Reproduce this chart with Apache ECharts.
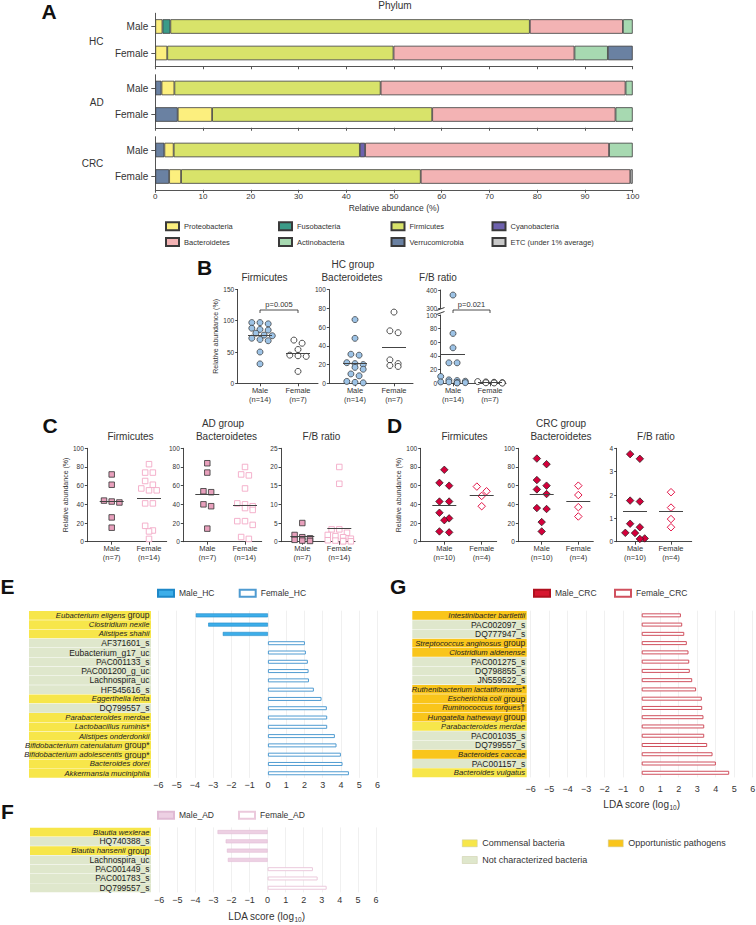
<!DOCTYPE html>
<html><head><meta charset="utf-8">
<script src="https://cdn.jsdelivr.net/npm/echarts@6/dist/echarts.min.js"></script>
<style>html,body{margin:0;padding:0;background:#fff}#c{width:756px;height:925px}</style>
</head><body><div id="c"></div>
<script>
// ================= DATA =================
// Panel A – phylum relative abundance (%), bars: [HC-M, HC-F, AD-M, AD-F, CRC-M, CRC-F]
const groupsA = ['HC', 'AD', 'CRC'];
const sexes = ['Male', 'Female'];
const verrucoStart   = [0, 0, 1.3, 4.7, 1.9, 2.9];
const proteobacteria = [1.5, 2.5, 2.7, 7.2, 1.95, 2.5];
const fusobacteria   = [1.65, 0, 0, 0, 0, 0];
const firmicutes     = [75.3, 47.4, 43.2, 46.1, 39.0, 50.2];
const cyanobacteria  = [0, 0, 0, 0, 1.1, 0];
const bacteroidetes  = [19.5, 37.9, 51.3, 38.4, 51.1, 43.9];
const actinobacteria = [2.05, 7.0, 1.5, 3.6, 4.95, 0];
const verrucoEnd     = [0, 5.2, 0, 0, 0, 0];
const etcPhyla       = [0, 0, 0, 0, 0, 0.5];

// Panel B – HC group
const bFirmMale   = [97, 97, 95, 88, 86, 85, 80, 77, 76, 72, 70, 68, 50, 31];
const bFirmFemale = [69, 64, 54, 45, 44, 43, 19];
const bBactMale   = [68, 48, 31, 30, 22, 21, 20, 17, 15, 10, 8, 2, 1, 0.5];
const bBactFemale = [76, 56, 54, 25, 21, 19, 18];
const bRatioMale  = [372, 73, 52, 30, 30, 10, 5, 4, 3, 2, 2, 1, 1, 0.5];
const bRatioFemale= [2.5, 2, 1.5, 1, 0.8, 0.5, 0.3];
// Panel C – AD group
const cFirmMale   = [72, 61, 44, 43, 42, 26, 15];
const cFirmFemale = [83, 74, 74, 65, 61, 57, 55, 55, 41, 41, 17, 12, 11, 3];
const cBactMale   = [84, 74, 54, 53, 40, 38, 14];
const cBactFemale = [80, 72, 71, 57, 41, 40, 38, 36, 34, 22, 22, 18, 5, 3];
const cRatioMale  = [5.0, 1.8, 1.2, 0.9, 0.5, 0.3, 0.2];
const cRatioFemale= [20, 15.5, 3.3, 3.3, 2.4, 1.8, 1.5, 1.2, 0.8, 0.4, 0.3, 0.2, 0.1, 0.1];
// Panel D – CRC group
const dFirmMale   = [77, 63, 60, 43, 43, 31, 25, 23, 11, 10];
const dFirmFemale = [59, 54, 49, 38];
const dBactMale   = [89, 83, 66, 60, 56, 51, 36, 35, 21, 11];
const dBactFemale = [60, 50, 37, 27];
const dRatioMale  = [3.75, 3.55, 1.76, 1.72, 0.77, 0.62, 0.38, 0.37, 0.14, 0.12];
const dRatioFemale= [2.12, 1.46, 0.97, 0.62];

// Panels E/F/G – LEfSe LDA scores (negative = male, positive = female); type: C commensal, O opportunistic, N not characterized
const eTaxa = ['Eubacterium eligens group','Clostridium nexile','Alistipes shahii','AF371601_s','Eubacterium_g17_uc','PAC001133_s','PAC001200_g_uc','Lachnospira_uc','HF545616_s','Eggerthella lenta','DQ799557_s','Parabacteroides merdae','Lactobacillus ruminis*','Alistipes onderdonkii','Bifidobacterium catenulatum group*','Bifidobacterium adolescentis group*','Bacteroides dorei','Akkermansia muciniphila'];
const eLDA  = [-3.95, -3.27, -2.47, 2.03, 2.08, 2.19, 2.23, 2.25, 2.52, 2.94, 3.23, 3.25, 3.25, 3.67, 3.76, 4.0, 4.09, 4.44];
const eType = ['C','C','C','N','N','N','N','N','N','C','N','C','C','C','C','C','C','C'];
const fTaxa = ['Blautia wexlerae','HQ740388_s','Blautia hansenii group','Lachnospira_uc','PAC001449_s','PAC001783_s','DQ799557_s'];
const fLDA  = [-2.77, -2.32, -2.25, -2.2, 2.51, 2.77, 3.27];
const fType = ['C','N','C','N','N','N','N'];
const gTaxa = ['Intestinibacter bartlettii','PAC002097_s','DQ777947_s','Streptococcus anginosus group','Clostridium aldenense','PAC001275_s','DQ798855_s','JN559522_s','Ruthenibacterium lactatiformans*','Escherichia coli group','Ruminococcus torques\u2020','Hungatella hathewayi group','Parabacteroides merdae','PAC001035_s','DQ799557_s','Bacteroides caccae','PAC001157_s','Bacteroides vulgatus'];
const gLDA  = [2.12, 2.19, 2.3, 2.44, 2.53, 2.57, 2.6, 2.73, 2.94, 3.25, 3.27, 3.34, 3.38, 3.38, 3.54, 3.83, 4.01, 4.73];
const gType = ['O','N','N','O','O','N','N','N','O','O','O','O','C','N','N','O','N','C'];

// ================= HELPERS =================
const FONT = "'Liberation Sans', Arial, Helvetica, sans-serif";
const mctx = document.createElement('canvas').getContext('2d');
function tw(s, size, fam) { mctx.font = size + 'px ' + (fam || FONT); return mctx.measureText(s).width; }
mctx.font = "20px 'Liberation Sans Narrow', monospace"; const wa = mctx.measureText('abcdefghijklmnop').width;
mctx.font = "20px monospace"; const wb = mctx.measureText('abcdefghijklmnop').width;
const NARROW = Math.abs(wa - wb) > 0.5;
const NFONT = NARROW ? "'Liberation Sans Narrow', " + FONT : FONT;

const grids = [], xAxes = [], yAxes = [], series = [], legends = [], graphics = [];
function addGrid(g, x, y) {
  grids.push(Object.assign({ containLabel: false, outerBoundsMode: 'none' }, g));
  const gi = grids.length - 1; x.gridIndex = gi; y.gridIndex = gi;
  xAxes.push(x); yAxes.push(y); return gi;
}
function txt(s, x, y, size, o) {
  graphics.push({ type: 'text', x: x, y: y, silent: true, z: 100,
    style: Object.assign({ text: s, fontSize: size, fontFamily: FONT, fill: '#222', align: 'center', verticalAlign: 'middle' }, o || {}) });
}
function poly(pts, w) { graphics.push({ type: 'polyline', silent: true, z: 100, shape: { points: pts }, style: { stroke: '#222', lineWidth: w || 0.8, fill: null } }); }
function letter(s, x, y) { txt(s, x, y, 21, { fontWeight: 'bold', fontFamily: NFONT, align: 'left', fill: '#111' }); }

// ================= PANEL A =================
const phyla = [
  { name: 'Verrucomicrobia', data: verrucoStart, color: '#6A81A2' },
  { name: 'Proteobacteria', data: proteobacteria, color: '#FCEF7E' },
  { name: 'Fusobacteria', data: fusobacteria, color: '#3B9B88' },
  { name: 'Firmicutes', data: firmicutes, color: '#D8E36A' },
  { name: 'Cyanobacteria', data: cyanobacteria, color: '#6E62AE' },
  { name: 'Bacteroidetes', data: bacteroidetes, color: '#F3B3B4' },
  { name: 'Actinobacteria', data: actinobacteria, color: '#A7D9B1' },
  { name: 'Verrucomicrobia', data: verrucoEnd, color: '#6A81A2' },
  { name: 'ETC (under 1% average)', data: etcPhyla, color: '#C8C8C8' }
];
const aTops = [13.25, 74.75, 136.75];
const aLabelPos = [[96.3, 41], [96.7, 102.3], [92.5, 163.3]];
groupsA.forEach((grp, g) => {
  const gi = addGrid({ left: 155.3, top: aTops[g], width: 477.4, height: 53 },
    { type: 'value', min: 0, max: 100, interval: 10,
      axisLine: { show: true, onZero: false, lineStyle: { color: '#555', width: 1 } },
      axisTick: { show: true, length: 3, lineStyle: { color: '#555' } },
      axisLabel: { show: g === 2, fontSize: 8, color: '#333', margin: 2.5, fontFamily: FONT },
      splitLine: { show: false },
      name: g === 2 ? 'Relative abundance (%)' : '', nameLocation: 'middle', nameGap: 14,
      nameTextStyle: { fontSize: 8.5, color: '#333', fontFamily: FONT } },
    { type: 'category', data: sexes, inverse: true,
      axisLine: { show: true, lineStyle: { color: '#555' } },
      axisTick: { show: true, length: 4, alignWithLabel: true, lineStyle: { color: '#555' } },
      axisLabel: { fontSize: 10, color: '#333', margin: 7, fontFamily: FONT } });
  phyla.forEach(p => {
    series.push({ type: 'bar', name: p.name, xAxisIndex: gi, yAxisIndex: gi, stack: 'A' + g, barWidth: 14.5, silent: true,
      data: [p.data[2 * g] || null, p.data[2 * g + 1] || null],
      itemStyle: { color: p.color, borderColor: '#3a3a3a', borderWidth: 0.8 } });
  });
  txt(grp, aLabelPos[g][0], aLabelPos[g][1], 10, { fill: '#333' });
});
txt('Phylum', 395, 5.5, 10, { fill: '#333' });
letter('A', 41.5, 11);
const aLegCols = [[165, ['Proteobacteria', 'Bacteroidetes']], [278, ['Fusobacteria', 'Actinobacteria']],
                  [390.5, ['Firmicutes', 'Verrucomicrobia']], [491.5, ['Cyanobacteria', 'ETC (under 1% average)']]];
aLegCols.forEach(c => legends.push({ data: c[1], left: c[0], top: 221.3, orient: 'vertical', padding: 0, itemGap: 5.7,
  itemWidth: 13, itemHeight: 8, icon: 'rect', selectedMode: false,
  textStyle: { fontSize: 7.5, color: '#333', fontFamily: FONT, padding: [0, 0, 0, 0] } }));

// ================= SCATTER PANELS (B, C, D) =================
function swarm(vals, pxu, yMin, size, spacing, maxPerRow) {
  const order = vals.map((v, i) => i).sort((a, b) => vals[b] - vals[a]);
  const off = new Array(vals.length).fill(0);
  const rows = []; let cur = null;
  order.forEach(i => {
    const y = (vals[i] - yMin) * pxu;
    if (cur && cur.y0 - y < size * 0.85 && cur.items.length < maxPerRow) cur.items.push(i);
    else { cur = { y0: y, items: [i] }; rows.push(cur); }
  });
  rows.forEach((r, ri) => {
    let shift = 0;
    if (ri > 0 && rows[ri - 1].y0 - r.y0 < size * 0.85) shift = rows[ri - 1].shift ? 0 : spacing / 2;
    r.shift = shift;
    const k = r.items.length;
    r.items.forEach((i, j) => { off[i] = (j - (k - 1) / 2) * spacing + shift; });
  });
  return off;
}
const scatterStyles = {
  B: { male: { symbol: 'circle', size: 6, color: '#9DC3E6', border: '#2b2b2b', bw: 0.7 },
       female: { symbol: 'circle', size: 6, color: '#ffffff', border: '#222222', bw: 0.8 } },
  C: { male: { symbol: 'rect', size: 5.5, color: '#E8A0BC', border: '#333333', bw: 0.8 },
       female: { symbol: 'rect', size: 5.5, color: '#ffffff', border: '#F3A9C6', bw: 0.9 } },
  D: { male: { symbol: 'diamond', size: 7.5, color: '#D4003B', border: '#1a1a1a', bw: 0.7 },
       female: { symbol: 'diamond', size: 7.5, color: '#ffffff', border: '#E3174A', bw: 1 } }
};
function yAxisCfg(min, max, int, name) {
  return { type: 'value', min: min, max: max, interval: int,
    axisLine: { show: true, onZero: false, lineStyle: { color: '#333', width: 0.9 } },
    axisTick: { show: true, length: 2.5, lineStyle: { color: '#333', width: 0.9 } },
    axisLabel: { fontSize: 6.5, color: '#333', margin: 3.5, fontFamily: FONT },
    splitLine: { show: false },
    name: name || '', nameLocation: 'middle', nameGap: 18,
    nameTextStyle: { fontSize: 7, color: '#333', fontFamily: FONT } };
}
function scatterPanel(p) {
  const u = p.female - p.male;
  const xMin = -(p.male - p.left) / u, xMax = 1 + (p.right - p.female) / u;
  const h = p.bottom - p.top;
  const pxu = h / (p.yMax - 0);
  const gi = addGrid({ left: p.left, top: p.top, width: p.right - p.left, height: h },
    { type: 'value', min: xMin, max: xMax,
      axisLine: { show: true, onZero: false, lineStyle: { color: '#333', width: 0.9 } },
      axisTick: { show: true, customValues: [0, 1], length: 3, lineStyle: { color: '#333', width: 0.9 } },
      axisLabel: { customValues: [0, 1], formatter: v => (Math.round(v) === 0 ? p.labels[0] : p.labels[1]),
        fontSize: 7.5, lineHeight: 8.5, color: '#333', margin: 3, fontFamily: FONT },
      splitLine: { show: false } },
    yAxisCfg(0, p.yMax, p.yInt, p.yName));
  let ug = -1;
  if (p.split) {
    ug = addGrid({ left: p.left, top: p.split.top, width: p.right - p.left, height: p.split.bottom - p.split.top },
      { type: 'value', min: xMin, max: xMax, show: false },
      yAxisCfg(p.split.min, p.split.max, p.split.int));
  }
  const st = scatterStyles[p.style];
  [[p.maleVals, st.male, 0], [p.femaleVals, st.female, 1]].forEach(([vals, s, g]) => {
    const off = swarm(vals, pxu, 0, s.size, s.size + 2.2, p.maxPerRow || 3);
    const lower = [], upper = [];
    vals.forEach((v, i) => { const pt = [g + off[i] / u, v]; (p.split && v > p.yMax ? upper : lower).push(pt); });
    const mean = vals.reduce((a, b) => a + b, 0) / vals.length;
    const common = { type: 'scatter', symbol: s.symbol, symbolSize: s.size, silent: true, z: 3,
      itemStyle: { color: s.color, borderColor: s.border, borderWidth: s.bw, opacity: 1 } };
    series.push(Object.assign({}, common, { xAxisIndex: gi, yAxisIndex: gi, data: lower,
      markLine: { silent: true, symbol: ['none', 'none'], label: { show: false }, animation: false,
        lineStyle: { color: '#444', width: 1, type: 'solid' },
        data: [[{ coord: [g - 12 / u, mean] }, { coord: [g + 12 / u, mean] }]] } }));
    if (upper.length) series.push(Object.assign({}, common, { xAxisIndex: ug, yAxisIndex: ug, data: upper }));
  });
}
const YN = 'Relative abundance (%)';
// B
scatterPanel({ left: 237.7, right: 318, top: 289.4, bottom: 383.3, male: 260, female: 298, yMax: 150, yInt: 50,
  maleVals: bFirmMale, femaleVals: bFirmFemale, labels: ['Male\n(n=14)', 'Female\n(n=7)'], style: 'B', yName: YN });
scatterPanel({ left: 329.3, right: 413, top: 289.6, bottom: 383.3, male: 355, female: 394, yMax: 100, yInt: 20,
  maleVals: bBactMale, femaleVals: bBactFemale, labels: ['Male\n(n=14)', 'Female\n(n=7)'], style: 'B' });
scatterPanel({ left: 440.7, right: 506, top: 315, bottom: 383.3, male: 453, female: 490, yMax: 100, yInt: 20,
  maleVals: bRatioMale, femaleVals: bRatioFemale, labels: ['Male\n(n=14)', 'Female\n(n=7)'], style: 'B', maxPerRow: 4,
  split: { top: 290, bottom: 308, min: 300, max: 400, int: 100 } });
// C
scatterPanel({ left: 87.3, right: 166.7, top: 448.3, bottom: 541.7, male: 111.7, female: 149, yMax: 100, yInt: 20,
  maleVals: cFirmMale, femaleVals: cFirmFemale, labels: ['Male\n(n=7)', 'Female\n(n=14)'], style: 'C', yName: YN });
scatterPanel({ left: 183.3, right: 261.7, top: 448.3, bottom: 541.7, male: 207.3, female: 245, yMax: 100, yInt: 20,
  maleVals: cBactMale, femaleVals: cBactFemale, labels: ['Male\n(n=7)', 'Female\n(n=14)'], style: 'C' });
scatterPanel({ left: 281, right: 355, top: 448.3, bottom: 541.7, male: 302.3, female: 339.3, yMax: 25, yInt: 5,
  maleVals: cRatioMale, femaleVals: cRatioFemale, labels: ['Male\n(n=7)', 'Female\n(n=14)'], style: 'C', maxPerRow: 4 });
// D
scatterPanel({ left: 420.7, right: 496.7, top: 448.3, bottom: 541.7, male: 444.3, female: 481.7, yMax: 100, yInt: 20,
  maleVals: dFirmMale, femaleVals: dFirmFemale, labels: ['Male\n(n=10)', 'Female\n(n=4)'], style: 'D', yName: YN });
scatterPanel({ left: 518.3, right: 593.3, top: 448.3, bottom: 541.7, male: 541.7, female: 578.3, yMax: 100, yInt: 20,
  maleVals: dBactMale, femaleVals: dBactFemale, labels: ['Male\n(n=10)', 'Female\n(n=4)'], style: 'D' });
scatterPanel({ left: 616.7, right: 691.7, top: 448.3, bottom: 541.7, male: 635, female: 671, yMax: 4, yInt: 1,
  maleVals: dRatioMale, femaleVals: dRatioFemale, labels: ['Male\n(n=10)', 'Female\n(n=4)'], style: 'D' });

letter('B', 197, 267);
txt('HC group', 353, 264, 10, { fill: '#333' });
txt('Firmicutes', 264.5, 277.7, 10, { fill: '#333' });
txt('Bacteroidetes', 352, 277.7, 10, { fill: '#333' });
txt('F/B ratio', 438, 277.7, 10, { fill: '#333' });
poly([[260, 313], [260, 310], [298, 310], [298, 313]]);
txt('p=0.005', 279, 304.5, 7.5, { fill: '#333' });
poly([[453, 313], [453, 310], [490, 310], [490, 313]]);
txt('p=0.021', 471.5, 304.5, 7.5, { fill: '#333' });
poly([[436.5, 310.5], [444.5, 307.5]], 0.9);
poly([[436.5, 314.5], [444.5, 311.5]], 0.9);

letter('C', 42.5, 425.5);
txt('AD group', 223, 423, 10, { fill: '#333' });
txt('Firmicutes', 130.5, 436, 10, { fill: '#333' });
txt('Bacteroidetes', 226.5, 436, 10, { fill: '#333' });
txt('F/B ratio', 321.5, 436, 10, { fill: '#333' });
letter('D', 387, 425);
txt('CRC group', 561, 423, 10, { fill: '#333' });
txt('Firmicutes', 464.5, 436, 10, { fill: '#333' });
txt('Bacteroidetes', 561, 436, 10, { fill: '#333' });
txt('F/B ratio', 656, 436, 10, { fill: '#333' });

// ================= LDA PANELS (E, F, G) =================
const typeDefs = [{ key: 'C', name: 'Commensal bacteria', color: '#F7E64A' },
                  { key: 'O', name: 'Opportunistic pathogens', color: '#F9C51B' },
                  { key: 'N', name: 'Not characterized bacteria', color: '#DFE7CC' }];
const richStyles = {
  i: { fontStyle: 'italic', fontFamily: NFONT, fontSize: NARROW ? 9.2 : 7.7, color: '#222' },
  r: { fontFamily: FONT, fontSize: 8.5, color: '#222' }
};
function taxonRich(name) {
  if (name.indexOf('_') >= 0) return '{r|' + name + '}';
  const m = name.match(/^(.*?)( group)?([*\u2020])?$/);
  let s = '{i|' + m[1] + '}';
  if (m[2]) s += '{r| group}';
  if (m[3]) s += '{r|' + m[3] + '}';
  return s;
}
function ldaPanel(o) {
  const bi = addGrid({ left: o.bandLeft, top: o.top, width: o.bandWidth, height: o.height },
    { type: 'value', min: 0, max: 1, show: false },
    { type: 'category', data: o.taxa, inverse: true, show: false });
  typeDefs.forEach(td => {
    series.push({ type: 'bar', name: td.name, xAxisIndex: bi, yAxisIndex: bi, barWidth: '95%', barGap: '-100%', silent: true,
      data: o.taxa.map((t, i) => (o.type[i] === td.key ? 1 : null)),
      itemStyle: { color: td.color },
      label: { show: true, position: 'insideRight', distance: 1.5, formatter: p => taxonRich(p.name), rich: richStyles } });
  });
  const pi = addGrid({ left: o.plotLeft, top: o.top, width: o.plotWidth, height: o.height },
    { type: 'value', min: -6, max: 6, interval: 1,
      axisLine: { show: false }, axisTick: { show: false },
      splitLine: { show: true, lineStyle: { color: '#ececec', width: 0.8 } },
      axisLabel: { fontSize: 9, color: '#333', margin: o.labelMargin, fontFamily: FONT,
        formatter: v => String(v).replace('-', '\u2212') } },
    { type: 'category', data: o.taxa, inverse: true, show: false });
  series.push({ type: 'bar', name: o.male.name, xAxisIndex: pi, yAxisIndex: pi, barWidth: 4, barGap: '-100%', silent: true,
    data: o.lda.map(v => (v < 0 ? v : null)), itemStyle: o.male.style });
  series.push({ type: 'bar', name: o.female.name, xAxisIndex: pi, yAxisIndex: pi, barWidth: 4, barGap: '-100%', silent: true,
    data: o.lda.map(v => (v > 0 ? v : null)), itemStyle: o.female.style });
  [[o.male.name, o.male.legendLeft], [o.female.name, o.female.legendLeft]].forEach(([n, l]) =>
    legends.push({ data: [n], left: l, top: o.legendY - 4.25, padding: 0, itemWidth: 16, itemHeight: 7, icon: 'rect',
      selectedMode: false, textStyle: { fontSize: 8.5, color: '#333', fontFamily: FONT } }));
}
ldaPanel({ taxa: eTaxa, lda: eLDA, type: eType, top: 610.7, height: 167.2, bandLeft: 29, bandWidth: 122,
  plotLeft: 158.4, plotWidth: 219, labelMargin: 3, legendY: 593,
  male: { name: 'Male_HC', legendLeft: 157, style: { color: '#3DAEE9', borderColor: '#1E88C8', borderWidth: 0.6 } },
  female: { name: 'Female_HC', legendLeft: 238.7, style: { color: '#ffffff', borderColor: '#4F9BD1', borderWidth: 1 } } });
ldaPanel({ taxa: fTaxa, lda: fLDA, type: fType, top: 827.4, height: 65, bandLeft: 30, bandWidth: 121,
  plotLeft: 159.2, plotWidth: 216.8, labelMargin: 3, legendY: 815,
  male: { name: 'Male_AD', legendLeft: 157, style: { color: '#EDD0E3', borderColor: '#E0BAD4', borderWidth: 0.6 } },
  female: { name: 'Female_AD', legendLeft: 238, style: { color: '#ffffff', borderColor: '#EBC9DC', borderWidth: 1 } } });
ldaPanel({ taxa: gTaxa, lda: gLDA, type: gType, top: 610.7, height: 166.7, bandLeft: 412.3, bandWidth: 114.4,
  plotLeft: 530.7, plotWidth: 222, labelMargin: 7, legendY: 593,
  male: { name: 'Male_CRC', legendLeft: 533, style: { color: '#D6172F', borderColor: '#B0101F', borderWidth: 0.6 } },
  female: { name: 'Female_CRC', legendLeft: 614, style: { color: '#ffffff', borderColor: '#D0505E', borderWidth: 1 } } });

letter('E', 0.5, 586);
letter('F', 1, 811);
letter('G', 390, 586);
// category legend
[['Commensal bacteria', 462, 843.3], ['Opportunistic pathogens', 608, 843.3], ['Not characterized bacteria', 462, 860]].forEach(([n, l, y]) =>
  legends.push({ data: [n], left: l, top: y - 4.5, padding: 0, itemWidth: 15, itemHeight: 7, icon: 'rect', selectedMode: false,
    itemStyle: { borderColor: '#c9c9a0', borderWidth: 0.5 },
    textStyle: { fontSize: 9, color: '#333', fontFamily: FONT } }));
// LDA score (log10) axis titles
function ldaTitle(cx, cy) {
  const a = 'LDA score (log', b = '10', c = ')';
  const wa = tw(a, 10), wb = tw(b, 6.5), wc = tw(c, 10);
  const x0 = cx - (wa + wb + wc) / 2;
  txt(a, x0, cy, 10, { align: 'left', fill: '#333' });
  txt(b, x0 + wa, cy + 3, 6.5, { align: 'left', fill: '#333' });
  txt(c, x0 + wa + wb, cy, 10, { align: 'left', fill: '#333' });
}
ldaTitle(641.7, 804.3);
ldaTitle(266.7, 916.7);

// ================= RENDER =================
const chart = echarts.init(document.getElementById('c'), null, { renderer: 'svg', width: 756, height: 925 });
chart.setOption({
  backgroundColor: '#ffffff', animation: false,
  textStyle: { fontFamily: FONT },
  grid: grids, xAxis: xAxes, yAxis: yAxes, series: series, legend: legends, graphic: graphics
});
</script></body></html>
